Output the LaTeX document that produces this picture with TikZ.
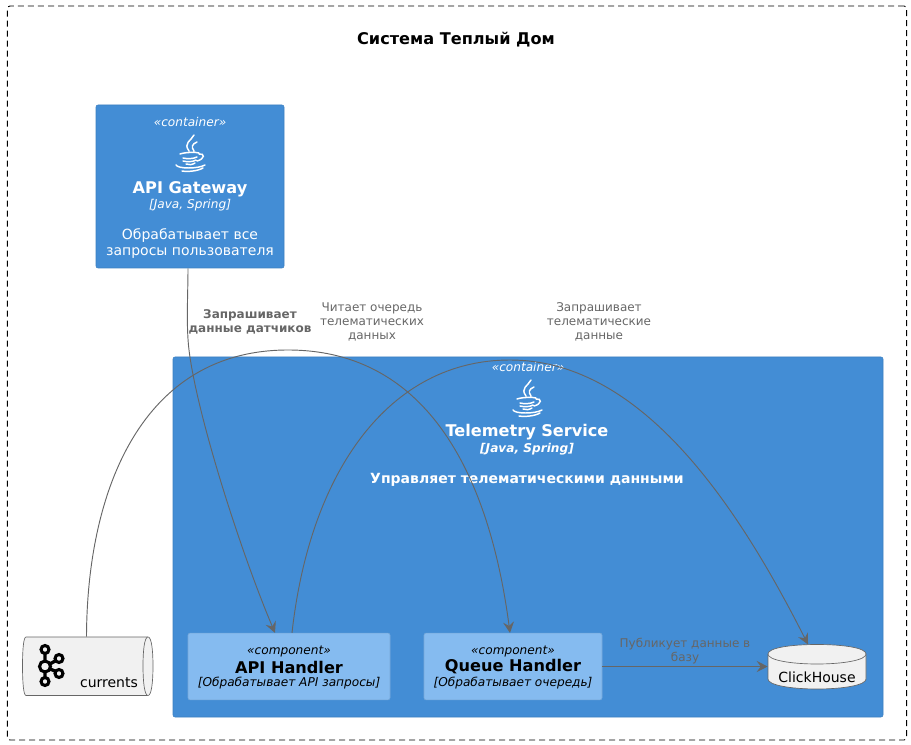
\documentclass[tikz,border=0pt]{standalone}
\usepackage{fontspec}
\setmainfont{DejaVu Sans}
\usetikzlibrary{arrows.meta}
\definecolor{cc}{HTML}{438DD5}
\definecolor{cb}{HTML}{3C7FC0}
\definecolor{kc}{HTML}{85BBF0}
\definecolor{kb}{HTML}{78A8D8}
\definecolor{dc}{HTML}{F1F1F1}
\definecolor{lg}{HTML}{666666}
\tikzset{cont/.style={draw=cb,fill=cc,rounded corners=1.5pt,inner sep=0pt},
 comp/.style={draw=kb,fill=kc,rounded corners=1.5pt,inner sep=0pt,minimum width=151.5pt,minimum height=50pt},
 store/.style={draw=lg,line width=.5pt,fill=dc},
 wire/.style={draw=lg,line width=.7pt},arr/.style={wire,-{Stealth[length=8.25pt,width=8.25pt,inset=3pt]}},
 lab/.style={text=lg,font=\fontsize{9}{10.5}\selectfont,align=center,inner sep=0pt},
 wt/.style={text=white,inner sep=0pt},
 big/.style={font=\fontsize{12.1}{14}\selectfont\bfseries},
 mid/.style={font=\fontsize{10.5}{12}\selectfont},
 sm/.style={font=\fontsize{9.1}{10}\selectfont\itshape},
 javaicon/.pic={\draw[white,line width=1.1pt,line cap=round]
  (4,-18) .. controls (1,-12) and (-7,-10) .. (-1,-2)
  (7,-11) .. controls (2,-9) and (1,-6) .. (4,-2)
  (-10,1) .. controls (-4,-1) and (6,-1) .. (9,0) (-7,5) .. controls (-3,6) and (3,6) .. (7,4)
  (-7,8) .. controls (-3,9) and (3,9) .. (6,7) (-4,11) .. controls (-1,12) and (2,12) .. (5,10)
  (9,1) .. controls (15,0) and (15,6) .. (7,8)
  (-14,12) .. controls (-12,16) and (8,16) .. (15,12)
  (-8,18) .. controls (-2,19) and (8,18) .. (13,15);},
 kafkaicon/.pic={\draw[black,line width=2.5pt]
  (0,-14) -- (0,-5) (0,5) -- (0,12) (4,-2) -- (11,-6) (4,2) -- (11,5);
  \draw[black,line width=2.3pt] (0,-17) circle (4) (0,15) circle (4) (14,-8) circle (4) (14,7) circle (4) (0,0) circle (5.5);}}
\begin{document}
\begin{tikzpicture}[x=.75pt,y=-.75pt]
\useasboundingbox (0,0) rectangle (911,745);
\node[draw=black,dash pattern=on 4.5pt off 3pt,line width=.7pt,rounded corners=2pt,minimum width=674.5pt,minimum height=550.5pt,inner sep=0pt] (frame) at (457,373) {};
\node[big,inner sep=0pt] (title) at (456,40) {Система Теплый Дом};
% gateway
\node[cont,minimum width=141pt,minimum height=122.25pt] (gw) at (190,186.5) {};
\node[wt,sm] (gwst) at (190,122) {«container»};
\pic at (190,153) {javaicon};
\node[wt,big] (gwname) at (190,189) {API Gateway};
\node[wt,sm] (gwtech) at (190,205) {[Java, Spring]};
\node[wt,mid,align=center] (gwdesc) at (190,244) {Обрабатывает все\\запросы пользователя};
% telemetry service
\node[cont,minimum width=532.5pt,minimum height=270pt] (ts) at (528,537) {};
\node[wt,sm] (tsst) at (528,367) {«container»};
\pic at (527,398) {javaicon};
\node[wt,big] (tsname) at (527,432) {Telemetry Service};
\node[wt,font=\fontsize{9.1}{10}\selectfont\bfseries\itshape] (tstech) at (527,449) {[Java, Spring]};
\node[wt,font=\fontsize{10.5}{12}\selectfont\bfseries] (tsdesc) at (527,480) {Управляет телематическими данными};
% components
\node[comp] (api) at (289,666.5) {};
\node[comp,minimum width=133.5pt] (qh) at (513,666.5) {};
\foreach \n/\x/\t/\d in {a/289/API Handler/Обрабатывает API запросы,q/513/Queue Handler/Обрабатывает очередь}{
 \node[sm,inner sep=0pt] (\n st) at (\x,652) {«component»};
 \node[big,inner sep=0pt] (\n name) at (\x,667) {\t};
 \node[sm,inner sep=0pt] (\n tech) at (\x,683) {[\d]};}
% stores
\draw[store] (26,637) -- (148,637) .. controls (151.5,637) and (153,650) .. (153,666) .. controls (153,682) and (151.5,695.5) .. (148,695.5) -- (26,695.5) .. controls (23.5,695.5) and (22.5,682) .. (22.5,666) .. controls (22.5,650) and (23.5,637) .. (26,637) -- cycle;
\draw[store] (148,637) .. controls (144.5,637) and (143,650) .. (143,666) .. controls (143,682) and (144.5,695.5) .. (148,695.5);
\node[minimum width=98.25pt,minimum height=43.5pt,inner sep=0pt] (cur) at (87.5,666) {};
\pic at (45,666.5) {kafkaicon};
\node[mid,inner sep=0pt] (curtxt) at (109,683) {currents};
\draw[store] (768,654) .. controls (768,648) and (790,644.5) .. (817,644.5) .. controls (844,644.5) and (866,648) .. (866,654) -- (866,679) .. controls (866,685) and (844,689) .. (817,689) .. controls (790,689) and (768,685) .. (768,679) -- cycle;
\draw[store] (768,654) .. controls (768,660) and (790,664) .. (817,664) .. controls (844,664) and (866,660) .. (866,654);
\node[minimum width=73.5pt,minimum height=33.4pt,inner sep=0pt] (ch) at (817,667) {};
\node[mid,inner sep=0pt] (chtxt) at (817,677) {ClickHouse};
% connectors
\draw[arr] ([xshift=-1.5pt]gw.south) .. controls (188,295) and (186,325) .. (189,350) .. controls (197,415) and (240,550) .. ([xshift=-10.5pt]api.north);
\draw[arr] ([xshift=-.75pt]cur.north) .. controls (87,490) and (142,350) .. (288,350) .. controls (430,350) and (490,480) .. ([xshift=-2.25pt]qh.north);
\draw[arr] ([xshift=2.25pt]api.north) .. controls (310,470) and (390,360) .. (510,360) .. controls (635,360) and (730,490) .. ([xshift=-6.75pt]ch.north);
\draw[arr] (qh.east) -- (qh.east -| ch.west);
\node[lab,font=\fontsize{9}{10.5}\selectfont\bfseries] (l1) at (250,322) {Запрашивает\\данные датчиков};
\node[lab] (l2) at (372,322) {Читает очередь\\телематических\\данных};
\node[lab] (l3) at (599,322) {Запрашивает\\телематические\\данные};
\node[lab] (l4) at (685,651) {Публикует данные в\\базу};
\end{tikzpicture}
\end{document}
